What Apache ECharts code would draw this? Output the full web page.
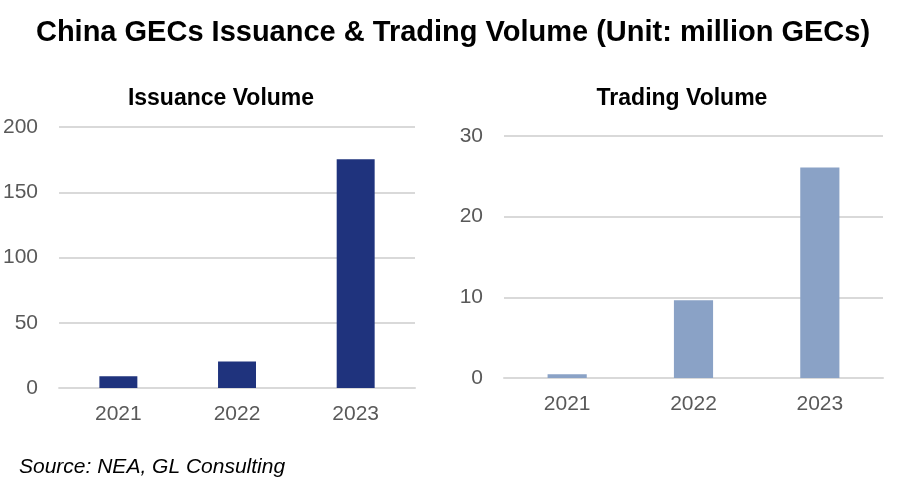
<!DOCTYPE html>
<html>
<head>
<meta charset="utf-8">
<script src="https://cdn.jsdelivr.net/npm/echarts@6/dist/echarts.min.js"></script>
<style>
html,body{margin:0;padding:0;background:#fff;}
#chart{width:906px;height:491px;}
</style>
</head>
<body>
<div id="chart"></div>
<script>
const years = ['2021', '2022', '2023'];
const issuanceVolume = [9.0, 20.4, 175.2];
const tradingVolume = [0.46, 9.63, 26.1];
const issuanceTicks = [0, 50, 100, 150, 200];
const tradingTicks = [0, 10, 20, 30];

const chart = echarts.init(document.getElementById('chart'));
const FONT = '"Liberation Sans", Arial, sans-serif';
const axisLabel = {color: '#595959', fontSize: 21, fontFamily: FONT};
function xAxis(gi) {
  return {
    type: 'category', gridIndex: gi, data: years,
    axisLine: {show: true, lineStyle: {color: '#d9d9d9', width: 2}},
    axisTick: {show: false},
    axisLabel: Object.assign({margin: 16}, axisLabel)
  };
}
function yAxis(gi, ticks) {
  return {
    type: 'value', gridIndex: gi,
    min: ticks[0], max: ticks[ticks.length - 1], interval: ticks[1] - ticks[0],
    axisLine: {show: false}, axisTick: {show: false},
    splitLine: {lineStyle: {color: '#d9d9d9', width: 2}},
    axisLabel: Object.assign({margin: 21}, axisLabel)
  };
}
chart.setOption({
  animation: false,
  backgroundColor: '#fff',
  title: [
    {text: 'China GECs Issuance & Trading Volume (Unit: million GECs)', left: 448, top: 13, textAlign: 'center',
     textStyle: {fontFamily: FONT, fontWeight: 'bold', fontSize: 29, color: '#000'}},
    {text: 'Issuance Volume', left: 216, top: 82, textAlign: 'center',
     textStyle: {fontFamily: FONT, fontWeight: 'bold', fontSize: 23, color: '#000'}},
    {text: 'Trading Volume', left: 677, top: 82, textAlign: 'center',
     textStyle: {fontFamily: FONT, fontWeight: 'bold', fontSize: 23, color: '#000'}},
    {text: 'Source: NEA, GL Consulting', left: 14, top: 452,
     textStyle: {fontFamily: FONT, fontStyle: 'italic', fontWeight: 'normal', fontSize: 21, color: '#000'}}
  ],
  grid: [
    {left: 59, top: 127, width: 356, height: 261},
    {left: 504, top: 136, width: 379, height: 242}
  ],
  xAxis: [xAxis(0), xAxis(1)],
  yAxis: [yAxis(0, issuanceTicks), yAxis(1, tradingTicks)],
  series: [
    {type: 'bar', xAxisIndex: 0, yAxisIndex: 0, data: issuanceVolume, barWidth: '32%',
     itemStyle: {color: '#1f337d'}},
    {type: 'bar', xAxisIndex: 1, yAxisIndex: 1, data: tradingVolume, barWidth: '31%',
     itemStyle: {color: '#8aa2c6'}}
  ]
});
</script>
</body>
</html>
